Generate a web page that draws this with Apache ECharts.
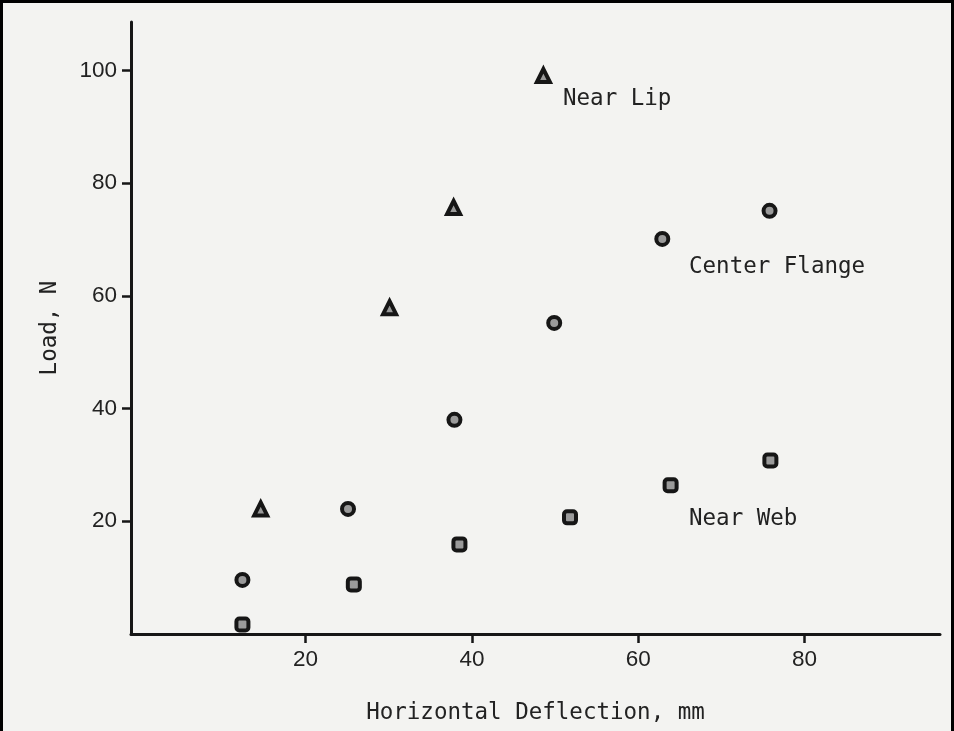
<!DOCTYPE html>
<html>
<head>
<meta charset="utf-8">
<script src="https://cdn.jsdelivr.net/npm/echarts@6/dist/echarts.min.js"></script>
<style>
html,body{margin:0;padding:0;background:#f3f3f1;}
#c{width:954px;height:731px;}
</style>
</head>
<body>
<div id="c"></div>
<script>
// ---- data ----
const xTickValues = [20, 40, 60, 80];
const yTickValues = [20, 40, 60, 80, 100];
const nearLipX = [14.6, 30.1, 37.8, 48.6];
const nearLipY = [22.2, 57.9, 75.7, 99.1];
const centerFlangeX = [12.4, 25.1, 37.9, 49.9, 62.9, 75.8];
const centerFlangeY = [9.6, 22.2, 38.0, 55.2, 70.1, 75.1];
const nearWebX = [12.4, 25.8, 38.5, 51.8, 63.9, 75.9];
const nearWebY = [1.7, 8.8, 15.9, 20.7, 26.4, 30.8];
const seriesNames = ['Near Lip', 'Center Flange', 'Near Web'];
const xTitle = 'Horizontal Deflection, mm';
const yTitle = 'Load, N';

const zip = (a, b) => a.map((v, i) => [v, b[i]]);
const ink = '#161616';
const textInk = '#222';
const monoFont = '"DejaVu Sans Mono", "Liberation Mono", monospace';
const tickFont = '"Liberation Sans", Arial, sans-serif';

const chart = echarts.init(document.getElementById('c'), null, {renderer: 'canvas'});
const markerStyle = {color: '#9a9a9a', borderColor: ink, borderWidth: 4, opacity: 1};

chart.setOption({
  backgroundColor: '#f3f3f1',
  animation: false,
  grid: {left: 131, right: 14, top: 22, bottom: 97, containLabel: false},
  xAxis: {
    type: 'value', min: -1, max: 96.3,
    name: xTitle, nameLocation: 'middle', nameGap: 68,
    nameTextStyle: {fontFamily: monoFont, fontSize: 22.5, color: textInk},
    axisLine: {onZero: false, lineStyle: {color: ink, width: 3}},
    axisTick: {show: true, customValues: xTickValues, length: 9, inside: false, lineStyle: {color: ink, width: 2.5}},
    axisLabel: {customValues: xTickValues, margin: 14, fontFamily: tickFont, fontSize: 22.5, color: textInk},
    splitLine: {show: false}
  },
  yAxis: {
    type: 'value', min: 0, max: 108.6,
    name: yTitle, nameLocation: 'middle', nameGap: 69, nameRotate: 90,
    nameTextStyle: {fontFamily: monoFont, fontSize: 22.5, color: textInk},
    axisLine: {onZero: false, lineStyle: {color: ink, width: 3}},
    axisTick: {show: true, customValues: yTickValues, length: 9, lineStyle: {color: ink, width: 2.5}},
    axisLabel: {customValues: yTickValues, margin: 14, fontFamily: tickFont, fontSize: 22.5, color: textInk},
    splitLine: {show: false}
  },
  series: [
    {name: seriesNames[0], type: 'scatter', symbol: 'triangle', symbolSize: 13,
     itemStyle: markerStyle, data: zip(nearLipX, nearLipY)},
    {name: seriesNames[1], type: 'scatter', symbol: 'circle', symbolSize: 12,
     itemStyle: markerStyle, data: zip(centerFlangeX, centerFlangeY)},
    {name: seriesNames[2], type: 'scatter', symbol: 'roundRect', symbolSize: 12,
     itemStyle: markerStyle, data: zip(nearWebX, nearWebY)}
  ],
  graphic: [
    {type: 'text', left: 563, top: 88, style: {text: seriesNames[0], font: '22.5px ' + monoFont, fill: textInk}},
    {type: 'text', left: 689, top: 256, style: {text: seriesNames[1], font: '22.5px ' + monoFont, fill: textInk}},
    {type: 'text', left: 689, top: 508, style: {text: seriesNames[2], font: '22.5px ' + monoFont, fill: textInk}},
    {type: 'rect', shape: {x: 1.5, y: 1.5, width: 951, height: 740}, style: {fill: 'none', stroke: '#000', lineWidth: 3}, silent: true}
  ]
});
</script>
</body>
</html>
